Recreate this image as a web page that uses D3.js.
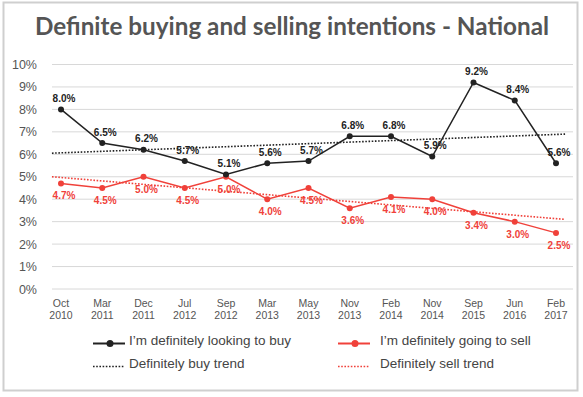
<!DOCTYPE html>
<html>
<head>
<meta charset="utf-8">
<script src="https://cdn.jsdelivr.net/npm/d3@7"></script>
<style>
  body { margin: 0; background: #fff; }
  text { font-family: "Liberation Sans", Arial, sans-serif; }
</style>
</head>
<body>
<div id="chart"></div>
<script>
// data
const months = ["Oct", "Mar", "Dec", "Jul", "Sep", "Mar", "May", "Nov", "Feb", "Nov", "Sep", "Jun", "Feb"];
const years = ["2010", "2011", "2011", "2012", "2012", "2013", "2013", "2013", "2014", "2014", "2015", "2016", "2017"];
const buyValues = [8.0, 6.5, 6.2, 5.7, 5.1, 5.6, 5.7, 6.8, 6.8, 5.9, 9.2, 8.4, 5.6];
const sellValues = [4.7, 4.5, 5.0, 4.5, 5.0, 4.0, 4.5, 3.6, 4.1, 4.0, 3.4, 3.0, 2.5];
const buyTrend = [6.05, 6.9];   // start, end
const sellTrend = [5.0, 3.1];
const yTicks = [0, 1, 2, 3, 4, 5, 6, 7, 8, 9, 10];
const legendItems = [
  {label: "I\u2019m definitely looking to buy", kind: "line", color: "#222"},
  {label: "I\u2019m definitely going to sell", kind: "line", color: "#f0413a"},
  {label: "Definitely buy trend", kind: "dots", color: "#222"},
  {label: "Definitely sell trend", kind: "dots", color: "#f0413a"}
];

const width = 583, height = 397;
const black = "#222", red = "#f0413a";

const svg = d3.select("#chart").append("svg")
    .attr("width", width)
    .attr("height", height);

// frame
svg.append("rect")
    .attr("x", 3.5).attr("y", 2.5)
    .attr("width", 574).attr("height", 388)
    .attr("fill", "#fff")
    .attr("stroke", "#cfcfcf")
    .attr("stroke-width", 2);

svg.append("text")
    .attr("x", 292).attr("y", 35)
    .attr("text-anchor", "middle")
    .attr("textLength", 514)
    .attr("lengthAdjust", "spacingAndGlyphs")
    .style("font-family", "Lato, 'Liberation Sans', sans-serif")
    .style("font-size", "24px")
    .style("font-weight", "bold")
    .attr("fill", "#555")
    .text("Definite buying and selling intentions - National");

const idx = d3.range(months.length);
const x = d3.scaleLinear().domain([0, months.length - 1]).range([61, 556]);
const y = d3.scaleLinear().domain([0, 10]).range([289, 64.5]);

// grid
svg.append("g")
  .selectAll("line")
  .data(yTicks)
  .join("line")
    .attr("x1", 52).attr("x2", 573)
    .attr("y1", d => y(d)).attr("y2", d => y(d))
    .attr("stroke", "#d8d8d8")
    .attr("stroke-width", 1);

// y axis labels
const yAxis = d3.axisLeft(y).tickValues(yTicks).tickSize(0).tickPadding(0)
    .tickFormat(d => d + "%");
svg.append("g")
    .attr("transform", "translate(37,0)")
    .call(yAxis)
    .call(g => g.select(".domain").remove())
    .call(g => g.selectAll("text")
        .attr("fill", "#555")
        .style("font-size", "12.5px")
        .style("font-family", "'Liberation Sans', Arial, sans-serif"));

// x labels (two lines)
const xl = svg.append("g")
  .selectAll("text")
  .data(idx)
  .join("text")
    .attr("x", d => x(d))
    .attr("y", 306.5)
    .attr("text-anchor", "middle")
    .attr("fill", "#555")
    .style("font-size", "10.5px");
xl.append("tspan").attr("x", d => x(d)).text(d => months[d]);
xl.append("tspan").attr("x", d => x(d)).attr("dy", 12).text(d => years[d]);

// trend lines, extended a little past first and last point
const ext = 0.22;
function trend(vals, color) {
  const t0 = -ext, t1 = months.length - 1 + ext;
  svg.append("line")
      .attr("x1", x(t0)).attr("y1", y(vals[0]))
      .attr("x2", x(t1)).attr("y2", y(vals[1]))
      .attr("stroke", color)
      .attr("stroke-width", 1.6)
      .attr("stroke-dasharray", "1.6,1.6");
}
trend(buyTrend, black);
trend(sellTrend, red);

const line = d3.line().x(d => x(d[0])).y(d => y(d[1]));

function series(vals, color, above) {
  const pts = vals.map((v, i) => [i, v]);
  svg.append("path")
      .datum(pts)
      .attr("d", line)
      .attr("fill", "none")
      .attr("stroke", color)
      .attr("stroke-width", 1.5);
  svg.append("g")
    .selectAll("circle")
    .data(pts)
    .join("circle")
      .attr("cx", d => x(d[0]))
      .attr("cy", d => y(d[1]))
      .attr("r", 3)
      .attr("fill", color);
  svg.append("g")
    .selectAll("text")
    .data(pts)
    .join("text")
      .attr("x", d => x(d[0]) + 3)
      .attr("y", d => y(d[1]) + (above ? -7.5 : 16))
      .attr("text-anchor", "middle")
      .attr("fill", color)
      .style("font-size", "10px")
      .style("font-weight", "bold")
      .text(d => d[1].toFixed(1) + "%");
}
series(sellValues, red, false);
series(buyValues, black, true);

// legend
const lg = svg.append("g")
  .selectAll("g")
  .data(legendItems)
  .join("g")
    .attr("transform", (d, i) => `translate(${i % 2 ? 338 : 93},${i < 2 ? 343.5 : 366.5})`);
lg.append("line")
    .attr("x1", 0).attr("x2", 32)
    .attr("stroke", d => d.color)
    .attr("stroke-width", d => d.kind === "line" ? 2 : 1.6)
    .attr("stroke-dasharray", d => d.kind === "line" ? null : "1.6,1.6");
lg.filter(d => d.kind === "line").append("circle")
    .attr("cx", 17).attr("r", 3.5)
    .attr("fill", d => d.color);
lg.append("text")
    .attr("x", (d, i) => i % 2 ? 42 : 36).attr("y", 0).attr("dy", "0.1em")
    .attr("fill", "#444")
    .style("font-size", "13.5px")
    .text(d => d.label);
</script>
</body>
</html>
